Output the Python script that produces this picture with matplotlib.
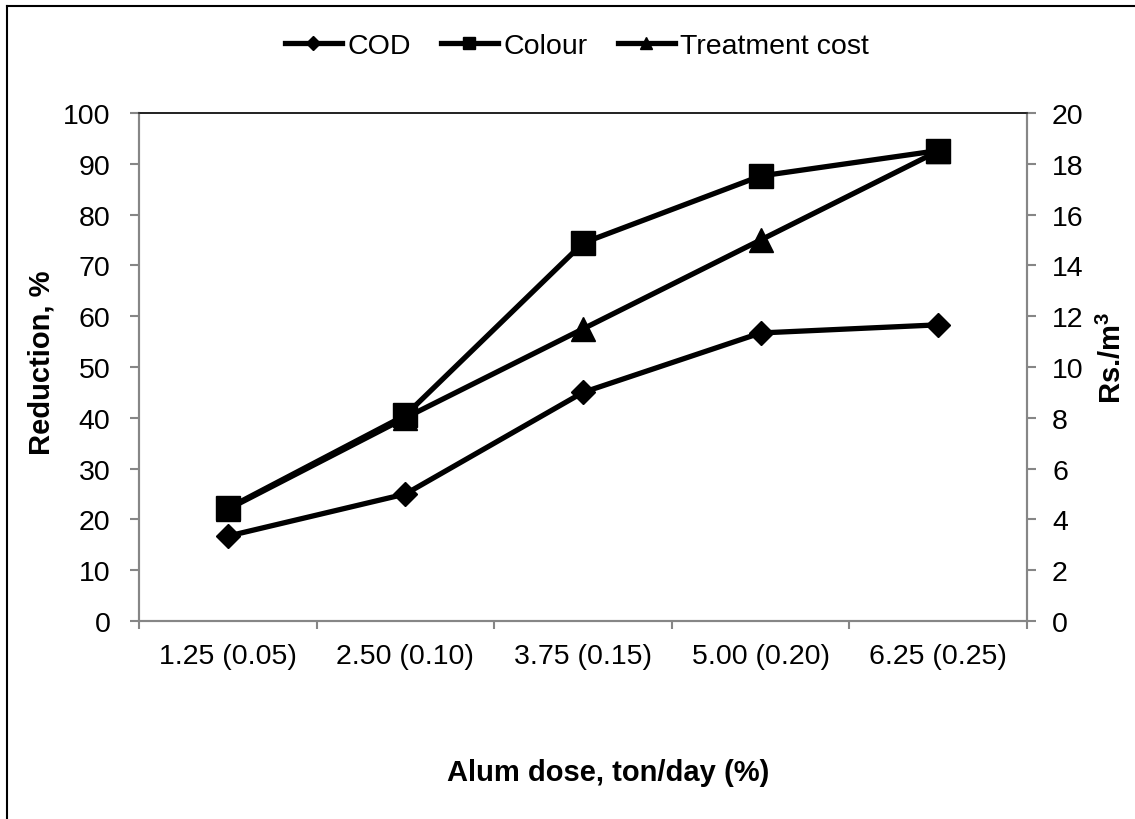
import matplotlib
matplotlib.use("Agg")
import matplotlib.pyplot as plt
from matplotlib.lines import Line2D

# ---------------------------------------------------------------
# Alum dose vs. COD / colour reduction and treatment cost
# ---------------------------------------------------------------

doses = ["1.25 (0.05)", "2.50 (0.10)", "3.75 (0.15)", "5.00 (0.20)", "6.25 (0.25)"]
cod_reduction = [16.7, 25.0, 45.0, 56.7, 58.3]
colour_reduction = [22.2, 40.5, 74.4, 87.6, 92.6]
treatment_cost = [4.4, 8.0, 11.5, 15.0, 18.5]   # Rs./m3, right axis

plt.rcParams["font.family"] = ["Liberation Sans", "DejaVu Sans"]
plt.rcParams["mathtext.fontset"] = "custom"
plt.rcParams["mathtext.rm"] = "Liberation Sans"
plt.rcParams["mathtext.bf"] = "Liberation Sans:bold"

AXIS_GREY = "#868686"
FS = 20.5        # tick labels / legend
TITLE_FS = 21    # axis titles

fig = plt.figure(figsize=(11.35, 8.2), dpi=100)
ax = fig.add_axes([139 / 1135, 1 - 622 / 820, (1027 - 139) / 1135, (622 - 114) / 820])
ax2 = ax.twinx()

x = list(range(len(doses)))

# cost line goes on the secondary axis, drawn underneath the primary one
ln_cost, = ax2.plot(x, treatment_cost, color="black", lw=3.8, marker="^", ms=17,
                    label="Treatment cost")
ln_cod, = ax.plot(x, cod_reduction, color="black", lw=3.8, marker="D", ms=12.5,
                  label="COD")
ln_col, = ax.plot(x, colour_reduction, color="black", lw=3.8, marker="s", ms=17,
                  label="Colour")

ax.set_zorder(ax2.get_zorder() + 1)
ax.patch.set_visible(False)

# axis ranges
ax.set_xlim(-0.5, len(doses) - 0.5)
ax.set_ylim(0, 100)
ax2.set_ylim(0, 20)
ax.set_yticks(range(0, 101, 10))
ax2.set_yticks(range(0, 21, 2))

# category labels in the middle, tick marks on the boundaries
ax.set_xticks(x)
ax.set_xticklabels(doses)
ax.set_xticks([i - 0.5 for i in range(len(doses) + 1)], minor=True)
ax.tick_params(axis="x", which="major", length=0, pad=16, labelsize=FS)
ax.tick_params(axis="x", which="minor", length=6, width=1.5, color=AXIS_GREY)
ax.tick_params(axis="y", length=6.5, width=1.5, color=AXIS_GREY, pad=14, labelsize=FS)
ax2.tick_params(axis="y", length=6.5, width=1.5, color=AXIS_GREY, pad=11.5, labelsize=FS)

for a in (ax, ax2):
    for side in ("left", "right", "bottom"):
        a.spines[side].set_color(AXIS_GREY)
        a.spines[side].set_linewidth(1.5)
    a.spines["top"].set_color("#202020")
    a.spines["top"].set_linewidth(1.2)

# axis titles
fig.text(608 / 1135, 1 - 773 / 820, "Alum dose, ton/day (%)", ha="center", va="center",
         fontsize=TITLE_FS, fontweight="bold")
fig.text(42 / 1135, 1 - 363 / 820, "Reduction, %", ha="center", va="center",
         rotation=90, fontsize=TITLE_FS, fontweight="bold")
fig.text(1112 / 1135, 1 - 358 / 820, r"Rs./m$^{\mathbf{3}}$", ha="center", va="center",
         rotation=90, fontsize=TITLE_FS, fontweight="bold")

fig.legend([ln_cod, ln_col, ln_cost], ["COD", "Colour", "Treatment cost"],
           loc="center", bbox_to_anchor=(577 / 1135, 1 - 47 / 820), ncol=3,
           frameon=False, fontsize=FS, markerscale=0.55, handlelength=2.0,
           handletextpad=0.2, columnspacing=1.05)

# chart-area border (only left and top edges are visible in the crop)
fig.add_artist(Line2D([7 / 1135, 7 / 1135], [0, 1 - 7 / 820], color="black", lw=1.5,
                      transform=fig.transFigure))
fig.add_artist(Line2D([7 / 1135, 1], [1 - 7 / 820, 1 - 7 / 820], color="black", lw=1.5,
                      transform=fig.transFigure))

fig.savefig("out.png", dpi=100, facecolor="white")
